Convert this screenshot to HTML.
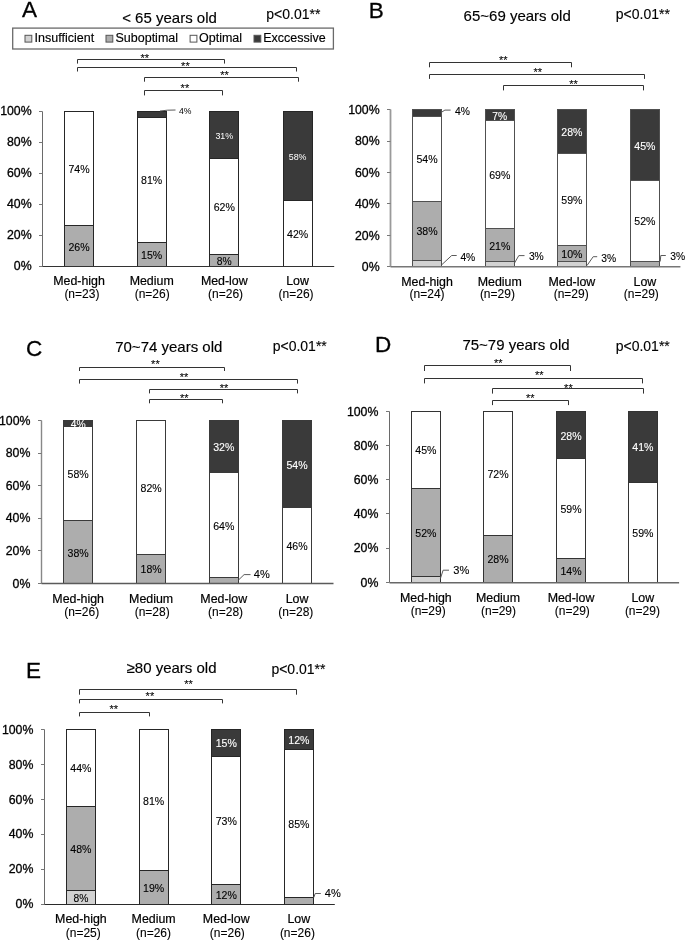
<!DOCTYPE html>
<html><head><meta charset="utf-8"><style>
html,body{margin:0;padding:0;background:#fff;}
svg{display:block;will-change:transform;}
text{font-family:"Liberation Sans", sans-serif;}
</style></head><body>
<svg width="685" height="940" viewBox="0 0 685 940">
<rect x="0" y="0" width="685" height="940" fill="#fff"/>
<text x="22.00" y="16.80" font-size="22.5" text-anchor="start" fill="#000" stroke="#000" stroke-width="0.3" >A</text>
<text x="122.20" y="22.50" font-size="15" text-anchor="start" fill="#000" stroke="#000" stroke-width="0.15" >&lt; 65 years old</text>
<text x="266.30" y="18.90" font-size="14" text-anchor="start" fill="#000" stroke="#000" stroke-width="0.12" >p&lt;0.01**</text>
<line x1="42.50" y1="111.50" x2="42.50" y2="266.50" stroke="#6a6a6a" stroke-width="1.0"/>
<line x1="39.00" y1="266.50" x2="42.50" y2="266.50" stroke="#777777" stroke-width="1"/>
<text x="31.60" y="270.40" font-size="12.3" text-anchor="end" fill="#000" stroke="#000" stroke-width="0.3" >0%</text>
<line x1="39.00" y1="235.50" x2="42.50" y2="235.50" stroke="#777777" stroke-width="1"/>
<text x="31.60" y="239.38" font-size="12.3" text-anchor="end" fill="#000" stroke="#000" stroke-width="0.3" >20%</text>
<line x1="39.00" y1="204.50" x2="42.50" y2="204.50" stroke="#777777" stroke-width="1"/>
<text x="31.60" y="208.36" font-size="12.3" text-anchor="end" fill="#000" stroke="#000" stroke-width="0.3" >40%</text>
<line x1="39.00" y1="173.50" x2="42.50" y2="173.50" stroke="#777777" stroke-width="1"/>
<text x="31.60" y="177.34" font-size="12.3" text-anchor="end" fill="#000" stroke="#000" stroke-width="0.3" >60%</text>
<line x1="39.00" y1="142.50" x2="42.50" y2="142.50" stroke="#777777" stroke-width="1"/>
<text x="31.60" y="146.32" font-size="12.3" text-anchor="end" fill="#000" stroke="#000" stroke-width="0.3" >80%</text>
<line x1="39.00" y1="111.50" x2="42.50" y2="111.50" stroke="#777777" stroke-width="1"/>
<text x="31.60" y="115.30" font-size="12.3" text-anchor="end" fill="#000" stroke="#000" stroke-width="0.3" >100%</text>
<rect x="64.50" y="225.50" width="29.00" height="41.00" fill="#adadad" stroke="#262626" stroke-width="1"/>
<rect x="64.50" y="111.50" width="29.00" height="114.00" fill="#ffffff" stroke="#262626" stroke-width="1"/>
<text x="79.00" y="250.61" font-size="11" text-anchor="middle" fill="#000" stroke="#000" stroke-width="0.12" textLength="21.20" lengthAdjust="spacingAndGlyphs">26%</text>
<text x="79.00" y="173.06" font-size="11" text-anchor="middle" fill="#000" stroke="#000" stroke-width="0.12" textLength="21.20" lengthAdjust="spacingAndGlyphs">74%</text>
<text x="79.00" y="285.30" font-size="12.4" text-anchor="middle" fill="#000" stroke="#000" stroke-width="0.2" >Med-high</text>
<text x="81.90" y="298.10" font-size="12" text-anchor="middle" fill="#000" stroke="#000" stroke-width="0.1" >(n=23)</text>
<rect x="137.50" y="242.50" width="29.00" height="24.00" fill="#adadad" stroke="#262626" stroke-width="1"/>
<rect x="137.50" y="117.50" width="29.00" height="125.00" fill="#ffffff" stroke="#262626" stroke-width="1"/>
<rect x="137.50" y="111.50" width="29.00" height="6.00" fill="#3a3a3a" stroke="#262626" stroke-width="1"/>
<text x="151.70" y="258.91" font-size="11" text-anchor="middle" fill="#000" stroke="#000" stroke-width="0.12" textLength="21.20" lengthAdjust="spacingAndGlyphs">15%</text>
<text x="151.70" y="184.34" font-size="11" text-anchor="middle" fill="#000" stroke="#000" stroke-width="0.12" textLength="21.20" lengthAdjust="spacingAndGlyphs">81%</text>
<text x="151.70" y="285.30" font-size="12.4" text-anchor="middle" fill="#000" stroke="#000" stroke-width="0.2" >Medium</text>
<text x="152.20" y="298.10" font-size="12" text-anchor="middle" fill="#000" stroke="#000" stroke-width="0.1" >(n=26)</text>
<rect x="209.50" y="254.50" width="29.00" height="12.00" fill="#adadad" stroke="#262626" stroke-width="1"/>
<rect x="209.50" y="158.50" width="29.00" height="96.00" fill="#ffffff" stroke="#262626" stroke-width="1"/>
<rect x="209.50" y="111.50" width="29.00" height="47.00" fill="#3a3a3a" stroke="#262626" stroke-width="1"/>
<text x="224.30" y="264.87" font-size="11" text-anchor="middle" fill="#000" stroke="#000" stroke-width="0.12" textLength="14.90" lengthAdjust="spacingAndGlyphs">8%</text>
<text x="224.30" y="211.18" font-size="11" text-anchor="middle" fill="#000" stroke="#000" stroke-width="0.12" textLength="21.20" lengthAdjust="spacingAndGlyphs">62%</text>
<text x="224.30" y="138.88" font-size="9" text-anchor="middle" fill="#fff" stroke="#fff" stroke-width="0" textLength="17.80" lengthAdjust="spacingAndGlyphs">31%</text>
<text x="224.30" y="285.30" font-size="12.4" text-anchor="middle" fill="#000" stroke="#000" stroke-width="0.2" >Med-low</text>
<text x="225.60" y="298.10" font-size="12" text-anchor="middle" fill="#000" stroke="#000" stroke-width="0.1" >(n=26)</text>
<rect x="283.50" y="200.50" width="29.00" height="66.00" fill="#ffffff" stroke="#262626" stroke-width="1"/>
<rect x="283.50" y="111.50" width="29.00" height="89.00" fill="#3a3a3a" stroke="#262626" stroke-width="1"/>
<text x="297.60" y="238.03" font-size="11" text-anchor="middle" fill="#000" stroke="#000" stroke-width="0.12" textLength="21.20" lengthAdjust="spacingAndGlyphs">42%</text>
<text x="297.60" y="159.76" font-size="9" text-anchor="middle" fill="#fff" stroke="#fff" stroke-width="0" textLength="17.80" lengthAdjust="spacingAndGlyphs">58%</text>
<text x="297.60" y="285.30" font-size="12.4" text-anchor="middle" fill="#000" stroke="#000" stroke-width="0.2" >Low</text>
<text x="296.10" y="298.10" font-size="12" text-anchor="middle" fill="#000" stroke="#000" stroke-width="0.1" >(n=26)</text>
<line x1="42.50" y1="266.50" x2="334.20" y2="266.50" stroke="#333333" stroke-width="1.1"/>
<polyline points="160.00,111.00 167.30,110.20 175.50,110.00" fill="none" stroke="#5a5a5a" stroke-width="1"/>
<text x="179.00" y="114.42" font-size="9" text-anchor="start" fill="#000" stroke="#000" stroke-width="0" textLength="12.50" lengthAdjust="spacingAndGlyphs">4%</text>
<polyline points="77.50,63.60 77.50,59.50 224.50,59.50 224.50,63.60" fill="none" stroke="#333" stroke-width="1"/>
<text x="144.70" y="61.70" font-size="11" text-anchor="middle" fill="#000" stroke="#000" stroke-width="0.1" >**</text>
<polyline points="77.50,71.50 77.50,67.50 296.50,67.50 296.50,71.50" fill="none" stroke="#333" stroke-width="1"/>
<text x="185.40" y="69.70" font-size="11" text-anchor="middle" fill="#000" stroke="#000" stroke-width="0.1" >**</text>
<polyline points="144.50,81.70 144.50,77.50 298.50,77.50 298.50,81.70" fill="none" stroke="#333" stroke-width="1"/>
<text x="224.60" y="79.20" font-size="11" text-anchor="middle" fill="#000" stroke="#000" stroke-width="0.1" >**</text>
<polyline points="144.50,95.40 144.50,90.50 222.50,90.50 222.50,95.40" fill="none" stroke="#333" stroke-width="1"/>
<text x="184.90" y="91.70" font-size="11" text-anchor="middle" fill="#000" stroke="#000" stroke-width="0.1" >**</text>
<text x="368.80" y="17.60" font-size="22.5" text-anchor="start" fill="#000" stroke="#000" stroke-width="0.3" >B</text>
<text x="463.60" y="21.20" font-size="15" text-anchor="start" fill="#000" stroke="#000" stroke-width="0.15" >65~69 years old</text>
<text x="615.80" y="19.20" font-size="14" text-anchor="start" fill="#000" stroke="#000" stroke-width="0.12" >p&lt;0.01**</text>
<line x1="390.50" y1="109.50" x2="390.50" y2="266.50" stroke="#9a9a9a" stroke-width="1.8"/>
<line x1="387.00" y1="266.50" x2="390.50" y2="266.50" stroke="#777777" stroke-width="1"/>
<text x="379.60" y="270.90" font-size="12.3" text-anchor="end" fill="#000" stroke="#000" stroke-width="0.3" >0%</text>
<line x1="387.00" y1="235.50" x2="390.50" y2="235.50" stroke="#777777" stroke-width="1"/>
<text x="379.60" y="239.50" font-size="12.3" text-anchor="end" fill="#000" stroke="#000" stroke-width="0.3" >20%</text>
<line x1="387.00" y1="203.50" x2="390.50" y2="203.50" stroke="#777777" stroke-width="1"/>
<text x="379.60" y="208.10" font-size="12.3" text-anchor="end" fill="#000" stroke="#000" stroke-width="0.3" >40%</text>
<line x1="387.00" y1="172.50" x2="390.50" y2="172.50" stroke="#777777" stroke-width="1"/>
<text x="379.60" y="176.70" font-size="12.3" text-anchor="end" fill="#000" stroke="#000" stroke-width="0.3" >60%</text>
<line x1="387.00" y1="141.50" x2="390.50" y2="141.50" stroke="#777777" stroke-width="1"/>
<text x="379.60" y="145.30" font-size="12.3" text-anchor="end" fill="#000" stroke="#000" stroke-width="0.3" >80%</text>
<line x1="387.00" y1="109.50" x2="390.50" y2="109.50" stroke="#777777" stroke-width="1"/>
<text x="379.60" y="113.90" font-size="12.3" text-anchor="end" fill="#000" stroke="#000" stroke-width="0.3" >100%</text>
<rect x="412.50" y="260.50" width="29.00" height="6.00" fill="#d2d2d2" stroke="#505050" stroke-width="1"/>
<rect x="412.50" y="201.50" width="29.00" height="59.00" fill="#adadad" stroke="#505050" stroke-width="1"/>
<rect x="412.50" y="116.50" width="29.00" height="85.00" fill="#ffffff" stroke="#505050" stroke-width="1"/>
<rect x="412.50" y="109.50" width="29.00" height="7.00" fill="#3a3a3a" stroke="#505050" stroke-width="1"/>
<text x="427.00" y="235.36" font-size="11" text-anchor="middle" fill="#000" stroke="#000" stroke-width="0.12" textLength="21.20" lengthAdjust="spacingAndGlyphs">38%</text>
<text x="427.00" y="163.40" font-size="11" text-anchor="middle" fill="#000" stroke="#000" stroke-width="0.12" textLength="21.20" lengthAdjust="spacingAndGlyphs">54%</text>
<text x="427.00" y="285.70" font-size="12.4" text-anchor="middle" fill="#000" stroke="#000" stroke-width="0.2" >Med-high</text>
<text x="427.10" y="297.60" font-size="12" text-anchor="middle" fill="#000" stroke="#000" stroke-width="0.1" >(n=24)</text>
<rect x="485.50" y="261.50" width="29.00" height="5.00" fill="#d2d2d2" stroke="#505050" stroke-width="1"/>
<rect x="485.50" y="228.50" width="29.00" height="33.00" fill="#adadad" stroke="#505050" stroke-width="1"/>
<rect x="485.50" y="120.50" width="29.00" height="108.00" fill="#ffffff" stroke="#505050" stroke-width="1"/>
<rect x="485.50" y="109.50" width="29.00" height="11.00" fill="#3a3a3a" stroke="#505050" stroke-width="1"/>
<text x="499.80" y="249.68" font-size="11" text-anchor="middle" fill="#000" stroke="#000" stroke-width="0.12" textLength="21.20" lengthAdjust="spacingAndGlyphs">21%</text>
<text x="499.80" y="179.30" font-size="11" text-anchor="middle" fill="#000" stroke="#000" stroke-width="0.12" textLength="21.20" lengthAdjust="spacingAndGlyphs">69%</text>
<text x="499.80" y="119.75" font-size="11" text-anchor="middle" fill="#fff" stroke="#fff" stroke-width="0.12" textLength="14.90" lengthAdjust="spacingAndGlyphs">7%</text>
<text x="499.80" y="285.70" font-size="12.4" text-anchor="middle" fill="#000" stroke="#000" stroke-width="0.2" >Medium</text>
<text x="497.40" y="297.60" font-size="12" text-anchor="middle" fill="#000" stroke="#000" stroke-width="0.1" >(n=29)</text>
<rect x="557.50" y="261.50" width="29.00" height="5.00" fill="#d2d2d2" stroke="#505050" stroke-width="1"/>
<rect x="557.50" y="245.50" width="29.00" height="16.00" fill="#adadad" stroke="#505050" stroke-width="1"/>
<rect x="557.50" y="153.50" width="29.00" height="92.00" fill="#ffffff" stroke="#505050" stroke-width="1"/>
<rect x="557.50" y="109.50" width="29.00" height="44.00" fill="#3a3a3a" stroke="#505050" stroke-width="1"/>
<text x="571.90" y="257.80" font-size="11" text-anchor="middle" fill="#000" stroke="#000" stroke-width="0.12" textLength="21.20" lengthAdjust="spacingAndGlyphs">10%</text>
<text x="571.90" y="203.67" font-size="11" text-anchor="middle" fill="#000" stroke="#000" stroke-width="0.12" textLength="21.20" lengthAdjust="spacingAndGlyphs">59%</text>
<text x="571.90" y="135.99" font-size="11" text-anchor="middle" fill="#fff" stroke="#fff" stroke-width="0.12" textLength="21.20" lengthAdjust="spacingAndGlyphs">28%</text>
<text x="571.90" y="285.70" font-size="12.4" text-anchor="middle" fill="#000" stroke="#000" stroke-width="0.2" >Med-low</text>
<text x="571.20" y="297.60" font-size="12" text-anchor="middle" fill="#000" stroke="#000" stroke-width="0.1" >(n=29)</text>
<rect x="630.50" y="261.50" width="29.00" height="5.00" fill="#adadad" stroke="#505050" stroke-width="1"/>
<rect x="630.50" y="180.50" width="29.00" height="81.00" fill="#ffffff" stroke="#505050" stroke-width="1"/>
<rect x="630.50" y="109.50" width="29.00" height="71.00" fill="#3a3a3a" stroke="#505050" stroke-width="1"/>
<text x="644.90" y="225.32" font-size="11" text-anchor="middle" fill="#000" stroke="#000" stroke-width="0.12" textLength="21.20" lengthAdjust="spacingAndGlyphs">52%</text>
<text x="644.90" y="149.53" font-size="11" text-anchor="middle" fill="#fff" stroke="#fff" stroke-width="0.12" textLength="21.20" lengthAdjust="spacingAndGlyphs">45%</text>
<text x="644.90" y="285.70" font-size="12.4" text-anchor="middle" fill="#000" stroke="#000" stroke-width="0.2" >Low</text>
<text x="641.30" y="297.60" font-size="12" text-anchor="middle" fill="#000" stroke="#000" stroke-width="0.1" >(n=29)</text>
<line x1="390.50" y1="266.80" x2="680.40" y2="266.80" stroke="#777777" stroke-width="1.6"/>
<polyline points="441.40,112.30 444.90,110.10 450.60,110.10" fill="none" stroke="#5a5a5a" stroke-width="1"/>
<text x="455.00" y="115.04" font-size="11" text-anchor="start" fill="#000" stroke="#000" stroke-width="0.12" textLength="14.90" lengthAdjust="spacingAndGlyphs">4%</text>
<polyline points="441.80,264.70 451.70,255.50 456.70,255.50" fill="none" stroke="#5a5a5a" stroke-width="1"/>
<text x="460.40" y="261.04" font-size="11" text-anchor="start" fill="#000" stroke="#000" stroke-width="0.12" textLength="14.90" lengthAdjust="spacingAndGlyphs">4%</text>
<polyline points="514.40,263.20 518.80,255.60 524.50,255.60" fill="none" stroke="#5a5a5a" stroke-width="1"/>
<text x="528.90" y="260.44" font-size="11" text-anchor="start" fill="#000" stroke="#000" stroke-width="0.12" textLength="14.90" lengthAdjust="spacingAndGlyphs">3%</text>
<polyline points="587.00,265.50 593.20,256.70 597.20,256.70" fill="none" stroke="#5a5a5a" stroke-width="1"/>
<text x="601.30" y="261.84" font-size="11" text-anchor="start" fill="#000" stroke="#000" stroke-width="0.12" textLength="14.90" lengthAdjust="spacingAndGlyphs">3%</text>
<polyline points="660.20,261.50 660.80,255.50 665.80,255.50" fill="none" stroke="#5a5a5a" stroke-width="1"/>
<text x="670.20" y="260.14" font-size="11" text-anchor="start" fill="#000" stroke="#000" stroke-width="0.12" textLength="14.90" lengthAdjust="spacingAndGlyphs">3%</text>
<polyline points="429.50,67.30 429.50,62.50 571.50,62.50 571.50,67.30" fill="none" stroke="#333" stroke-width="1"/>
<text x="503.20" y="64.20" font-size="11" text-anchor="middle" fill="#000" stroke="#000" stroke-width="0.1" >**</text>
<polyline points="429.50,78.90 429.50,74.50 644.50,74.50 644.50,78.90" fill="none" stroke="#333" stroke-width="1"/>
<text x="537.70" y="76.20" font-size="11" text-anchor="middle" fill="#000" stroke="#000" stroke-width="0.1" >**</text>
<polyline points="503.50,90.40 503.50,85.50 643.50,85.50 643.50,90.40" fill="none" stroke="#333" stroke-width="1"/>
<text x="573.60" y="87.70" font-size="11" text-anchor="middle" fill="#000" stroke="#000" stroke-width="0.1" >**</text>
<text x="26.00" y="355.50" font-size="22.5" text-anchor="start" fill="#000" stroke="#000" stroke-width="0.3" >C</text>
<text x="115.20" y="351.80" font-size="15" text-anchor="start" fill="#000" stroke="#000" stroke-width="0.15" >70~74 years old</text>
<text x="272.70" y="351.00" font-size="14" text-anchor="start" fill="#000" stroke="#000" stroke-width="0.12" >p&lt;0.01**</text>
<line x1="41.50" y1="420.50" x2="41.50" y2="583.50" stroke="#888888" stroke-width="1.4"/>
<line x1="38.00" y1="583.50" x2="41.50" y2="583.50" stroke="#777777" stroke-width="1"/>
<text x="30.40" y="587.50" font-size="12.3" text-anchor="end" fill="#000" stroke="#000" stroke-width="0.3" >0%</text>
<line x1="38.00" y1="550.50" x2="41.50" y2="550.50" stroke="#777777" stroke-width="1"/>
<text x="30.40" y="554.94" font-size="12.3" text-anchor="end" fill="#000" stroke="#000" stroke-width="0.3" >20%</text>
<line x1="38.00" y1="518.50" x2="41.50" y2="518.50" stroke="#777777" stroke-width="1"/>
<text x="30.40" y="522.38" font-size="12.3" text-anchor="end" fill="#000" stroke="#000" stroke-width="0.3" >40%</text>
<line x1="38.00" y1="485.50" x2="41.50" y2="485.50" stroke="#777777" stroke-width="1"/>
<text x="30.40" y="489.82" font-size="12.3" text-anchor="end" fill="#000" stroke="#000" stroke-width="0.3" >60%</text>
<line x1="38.00" y1="453.50" x2="41.50" y2="453.50" stroke="#777777" stroke-width="1"/>
<text x="30.40" y="457.26" font-size="12.3" text-anchor="end" fill="#000" stroke="#000" stroke-width="0.3" >80%</text>
<line x1="38.00" y1="420.50" x2="41.50" y2="420.50" stroke="#777777" stroke-width="1"/>
<text x="30.40" y="424.70" font-size="12.3" text-anchor="end" fill="#000" stroke="#000" stroke-width="0.3" >100%</text>
<rect x="63.50" y="520.50" width="29.00" height="63.00" fill="#adadad" stroke="#3a3a3a" stroke-width="1"/>
<rect x="63.50" y="426.50" width="29.00" height="94.00" fill="#ffffff" stroke="#3a3a3a" stroke-width="1"/>
<rect x="63.50" y="420.50" width="29.00" height="6.00" fill="#3a3a3a" stroke="#3a3a3a" stroke-width="1"/>
<text x="78.15" y="556.63" font-size="11" text-anchor="middle" fill="#000" stroke="#000" stroke-width="0.12" textLength="21.20" lengthAdjust="spacingAndGlyphs">38%</text>
<text x="78.15" y="478.36" font-size="11" text-anchor="middle" fill="#000" stroke="#000" stroke-width="0.12" textLength="21.20" lengthAdjust="spacingAndGlyphs">58%</text>
<text x="78.15" y="428.27" font-size="11" text-anchor="middle" fill="#fff" stroke="#fff" stroke-width="0.12" textLength="14.90" lengthAdjust="spacingAndGlyphs">4%</text>
<text x="78.15" y="602.80" font-size="12.4" text-anchor="middle" fill="#000" stroke="#000" stroke-width="0.2" >Med-high</text>
<text x="81.70" y="615.60" font-size="12" text-anchor="middle" fill="#000" stroke="#000" stroke-width="0.1" >(n=26)</text>
<rect x="136.50" y="554.50" width="29.00" height="29.00" fill="#adadad" stroke="#3a3a3a" stroke-width="1"/>
<rect x="136.50" y="420.50" width="29.00" height="134.00" fill="#ffffff" stroke="#3a3a3a" stroke-width="1"/>
<text x="151.15" y="573.40" font-size="11" text-anchor="middle" fill="#000" stroke="#000" stroke-width="0.12" textLength="21.20" lengthAdjust="spacingAndGlyphs">18%</text>
<text x="151.15" y="492.00" font-size="11" text-anchor="middle" fill="#000" stroke="#000" stroke-width="0.12" textLength="21.20" lengthAdjust="spacingAndGlyphs">82%</text>
<text x="151.15" y="602.80" font-size="12.4" text-anchor="middle" fill="#000" stroke="#000" stroke-width="0.2" >Medium</text>
<text x="152.20" y="615.60" font-size="12" text-anchor="middle" fill="#000" stroke="#000" stroke-width="0.1" >(n=28)</text>
<rect x="209.50" y="577.50" width="29.00" height="6.00" fill="#adadad" stroke="#3a3a3a" stroke-width="1"/>
<rect x="209.50" y="472.50" width="29.00" height="105.00" fill="#ffffff" stroke="#3a3a3a" stroke-width="1"/>
<rect x="209.50" y="420.50" width="29.00" height="52.00" fill="#3a3a3a" stroke="#3a3a3a" stroke-width="1"/>
<text x="223.75" y="529.80" font-size="11" text-anchor="middle" fill="#000" stroke="#000" stroke-width="0.12" textLength="21.20" lengthAdjust="spacingAndGlyphs">64%</text>
<text x="223.75" y="451.30" font-size="11" text-anchor="middle" fill="#fff" stroke="#fff" stroke-width="0.12" textLength="21.20" lengthAdjust="spacingAndGlyphs">32%</text>
<text x="223.75" y="602.80" font-size="12.4" text-anchor="middle" fill="#000" stroke="#000" stroke-width="0.2" >Med-low</text>
<text x="225.60" y="615.60" font-size="12" text-anchor="middle" fill="#000" stroke="#000" stroke-width="0.1" >(n=28)</text>
<rect x="282.50" y="507.50" width="29.00" height="76.00" fill="#ffffff" stroke="#3a3a3a" stroke-width="1"/>
<rect x="282.50" y="420.50" width="29.00" height="87.00" fill="#3a3a3a" stroke="#3a3a3a" stroke-width="1"/>
<text x="297.05" y="550.15" font-size="11" text-anchor="middle" fill="#000" stroke="#000" stroke-width="0.12" textLength="21.20" lengthAdjust="spacingAndGlyphs">46%</text>
<text x="297.05" y="468.75" font-size="11" text-anchor="middle" fill="#fff" stroke="#fff" stroke-width="0.12" textLength="21.20" lengthAdjust="spacingAndGlyphs">54%</text>
<text x="297.05" y="602.80" font-size="12.4" text-anchor="middle" fill="#000" stroke="#000" stroke-width="0.2" >Low</text>
<text x="295.85" y="615.60" font-size="12" text-anchor="middle" fill="#000" stroke="#000" stroke-width="0.1" >(n=28)</text>
<line x1="41.50" y1="583.50" x2="333.50" y2="583.50" stroke="#5a5a5a" stroke-width="1.3"/>
<polyline points="238.50,580.00 244.10,574.60 250.50,574.60" fill="none" stroke="#5a5a5a" stroke-width="1"/>
<text x="253.80" y="578.42" font-size="11.8" text-anchor="start" fill="#000" stroke="#000" stroke-width="0.12" textLength="15.98" lengthAdjust="spacingAndGlyphs">4%</text>
<polyline points="79.50,371.00 79.50,367.50 224.50,367.50 224.50,371.00" fill="none" stroke="#333" stroke-width="1"/>
<text x="155.40" y="367.60" font-size="11" text-anchor="middle" fill="#000" stroke="#000" stroke-width="0.1" >**</text>
<polyline points="79.50,383.60 79.50,379.50 297.50,379.50 297.50,383.60" fill="none" stroke="#333" stroke-width="1"/>
<text x="184.00" y="380.70" font-size="11" text-anchor="middle" fill="#000" stroke="#000" stroke-width="0.1" >**</text>
<polyline points="149.50,393.40 149.50,389.50 297.50,389.50 297.50,393.40" fill="none" stroke="#333" stroke-width="1"/>
<text x="224.00" y="391.60" font-size="11" text-anchor="middle" fill="#000" stroke="#000" stroke-width="0.1" >**</text>
<polyline points="149.50,403.30 149.50,399.50 222.50,399.50 222.50,403.30" fill="none" stroke="#333" stroke-width="1"/>
<text x="184.30" y="401.80" font-size="11" text-anchor="middle" fill="#000" stroke="#000" stroke-width="0.1" >**</text>
<text x="375.00" y="351.60" font-size="22.5" text-anchor="start" fill="#000" stroke="#000" stroke-width="0.3" >D</text>
<text x="462.40" y="349.90" font-size="15" text-anchor="start" fill="#000" stroke="#000" stroke-width="0.15" >75~79 years old</text>
<text x="615.70" y="350.50" font-size="14" text-anchor="start" fill="#000" stroke="#000" stroke-width="0.12" >p&lt;0.01**</text>
<line x1="389.50" y1="411.50" x2="389.50" y2="582.50" stroke="#6a6a6a" stroke-width="1.0"/>
<line x1="386.00" y1="582.50" x2="389.50" y2="582.50" stroke="#777777" stroke-width="1"/>
<text x="378.40" y="586.60" font-size="12.3" text-anchor="end" fill="#000" stroke="#000" stroke-width="0.3" >0%</text>
<line x1="386.00" y1="548.50" x2="389.50" y2="548.50" stroke="#777777" stroke-width="1"/>
<text x="378.40" y="552.38" font-size="12.3" text-anchor="end" fill="#000" stroke="#000" stroke-width="0.3" >20%</text>
<line x1="386.00" y1="513.50" x2="389.50" y2="513.50" stroke="#777777" stroke-width="1"/>
<text x="378.40" y="518.16" font-size="12.3" text-anchor="end" fill="#000" stroke="#000" stroke-width="0.3" >40%</text>
<line x1="386.00" y1="479.50" x2="389.50" y2="479.50" stroke="#777777" stroke-width="1"/>
<text x="378.40" y="483.94" font-size="12.3" text-anchor="end" fill="#000" stroke="#000" stroke-width="0.3" >60%</text>
<line x1="386.00" y1="445.50" x2="389.50" y2="445.50" stroke="#777777" stroke-width="1"/>
<text x="378.40" y="449.72" font-size="12.3" text-anchor="end" fill="#000" stroke="#000" stroke-width="0.3" >80%</text>
<line x1="386.00" y1="411.50" x2="389.50" y2="411.50" stroke="#777777" stroke-width="1"/>
<text x="378.40" y="415.50" font-size="12.3" text-anchor="end" fill="#000" stroke="#000" stroke-width="0.3" >100%</text>
<rect x="411.50" y="576.50" width="29.00" height="6.00" fill="#d2d2d2" stroke="#333333" stroke-width="1"/>
<rect x="411.50" y="488.50" width="29.00" height="88.00" fill="#adadad" stroke="#333333" stroke-width="1"/>
<rect x="411.50" y="411.50" width="29.00" height="77.00" fill="#ffffff" stroke="#333333" stroke-width="1"/>
<text x="425.85" y="536.89" font-size="11" text-anchor="middle" fill="#000" stroke="#000" stroke-width="0.12" textLength="21.20" lengthAdjust="spacingAndGlyphs">52%</text>
<text x="425.85" y="454.29" font-size="11" text-anchor="middle" fill="#000" stroke="#000" stroke-width="0.12" textLength="21.20" lengthAdjust="spacingAndGlyphs">45%</text>
<text x="425.85" y="601.60" font-size="12.4" text-anchor="middle" fill="#000" stroke="#000" stroke-width="0.2" >Med-high</text>
<text x="428.20" y="614.80" font-size="12" text-anchor="middle" fill="#000" stroke="#000" stroke-width="0.1" >(n=29)</text>
<rect x="483.50" y="535.50" width="29.00" height="47.00" fill="#adadad" stroke="#333333" stroke-width="1"/>
<rect x="483.50" y="411.50" width="29.00" height="124.00" fill="#ffffff" stroke="#333333" stroke-width="1"/>
<text x="498.05" y="563.44" font-size="11" text-anchor="middle" fill="#000" stroke="#000" stroke-width="0.12" textLength="21.20" lengthAdjust="spacingAndGlyphs">28%</text>
<text x="498.05" y="477.89" font-size="11" text-anchor="middle" fill="#000" stroke="#000" stroke-width="0.12" textLength="21.20" lengthAdjust="spacingAndGlyphs">72%</text>
<text x="498.05" y="601.60" font-size="12.4" text-anchor="middle" fill="#000" stroke="#000" stroke-width="0.2" >Medium</text>
<text x="498.50" y="614.80" font-size="12" text-anchor="middle" fill="#000" stroke="#000" stroke-width="0.1" >(n=29)</text>
<rect x="556.50" y="558.50" width="29.00" height="24.00" fill="#adadad" stroke="#333333" stroke-width="1"/>
<rect x="556.50" y="458.50" width="29.00" height="100.00" fill="#ffffff" stroke="#333333" stroke-width="1"/>
<rect x="556.50" y="411.50" width="29.00" height="47.00" fill="#3a3a3a" stroke="#333333" stroke-width="1"/>
<text x="571.05" y="575.24" font-size="11" text-anchor="middle" fill="#000" stroke="#000" stroke-width="0.12" textLength="21.20" lengthAdjust="spacingAndGlyphs">14%</text>
<text x="571.05" y="513.29" font-size="11" text-anchor="middle" fill="#000" stroke="#000" stroke-width="0.12" textLength="21.20" lengthAdjust="spacingAndGlyphs">59%</text>
<text x="571.05" y="439.54" font-size="11" text-anchor="middle" fill="#fff" stroke="#fff" stroke-width="0.12" textLength="21.20" lengthAdjust="spacingAndGlyphs">28%</text>
<text x="571.05" y="601.60" font-size="12.4" text-anchor="middle" fill="#000" stroke="#000" stroke-width="0.2" >Med-low</text>
<text x="572.35" y="614.80" font-size="12" text-anchor="middle" fill="#000" stroke="#000" stroke-width="0.1" >(n=29)</text>
<rect x="628.50" y="482.50" width="29.00" height="100.00" fill="#ffffff" stroke="#333333" stroke-width="1"/>
<rect x="628.50" y="411.50" width="29.00" height="71.00" fill="#3a3a3a" stroke="#333333" stroke-width="1"/>
<text x="642.85" y="536.89" font-size="11" text-anchor="middle" fill="#000" stroke="#000" stroke-width="0.12" textLength="21.20" lengthAdjust="spacingAndGlyphs">59%</text>
<text x="642.85" y="451.34" font-size="11" text-anchor="middle" fill="#fff" stroke="#fff" stroke-width="0.12" textLength="21.20" lengthAdjust="spacingAndGlyphs">41%</text>
<text x="642.85" y="601.60" font-size="12.4" text-anchor="middle" fill="#000" stroke="#000" stroke-width="0.2" >Low</text>
<text x="642.40" y="614.80" font-size="12" text-anchor="middle" fill="#000" stroke="#000" stroke-width="0.1" >(n=29)</text>
<line x1="389.50" y1="582.80" x2="679.10" y2="582.80" stroke="#686868" stroke-width="1.5"/>
<polyline points="440.40,578.50 443.10,570.20 449.00,570.20" fill="none" stroke="#5a5a5a" stroke-width="1"/>
<text x="453.30" y="574.12" font-size="11.8" text-anchor="start" fill="#000" stroke="#000" stroke-width="0.12" textLength="15.98" lengthAdjust="spacingAndGlyphs">3%</text>
<polyline points="424.50,371.00 424.50,365.50 570.50,365.50 570.50,371.00" fill="none" stroke="#333" stroke-width="1"/>
<text x="498.20" y="367.00" font-size="11" text-anchor="middle" fill="#000" stroke="#000" stroke-width="0.1" >**</text>
<polyline points="424.50,383.40 424.50,378.50 642.50,378.50 642.50,383.40" fill="none" stroke="#333" stroke-width="1"/>
<text x="539.30" y="379.00" font-size="11" text-anchor="middle" fill="#000" stroke="#000" stroke-width="0.1" >**</text>
<polyline points="492.50,393.60 492.50,388.50 643.50,388.50 643.50,393.60" fill="none" stroke="#333" stroke-width="1"/>
<text x="568.40" y="391.50" font-size="11" text-anchor="middle" fill="#000" stroke="#000" stroke-width="0.1" >**</text>
<polyline points="492.50,405.10 492.50,400.50 568.50,400.50 568.50,405.10" fill="none" stroke="#333" stroke-width="1"/>
<text x="530.30" y="402.00" font-size="11" text-anchor="middle" fill="#000" stroke="#000" stroke-width="0.1" >**</text>
<text x="26.00" y="677.60" font-size="22.5" text-anchor="start" fill="#000" stroke="#000" stroke-width="0.3" >E</text>
<text x="126.60" y="673.40" font-size="15" text-anchor="start" fill="#000" stroke="#000" stroke-width="0.15" >≥80 years old</text>
<text x="271.40" y="674.00" font-size="14" text-anchor="start" fill="#000" stroke="#000" stroke-width="0.12" >p&lt;0.01**</text>
<line x1="44.50" y1="729.50" x2="44.50" y2="904.50" stroke="#6a6a6a" stroke-width="1.0"/>
<line x1="41.00" y1="904.50" x2="44.50" y2="904.50" stroke="#777777" stroke-width="1"/>
<text x="33.40" y="908.40" font-size="12.3" text-anchor="end" fill="#000" stroke="#000" stroke-width="0.3" >0%</text>
<line x1="41.00" y1="869.50" x2="44.50" y2="869.50" stroke="#777777" stroke-width="1"/>
<text x="33.40" y="873.44" font-size="12.3" text-anchor="end" fill="#000" stroke="#000" stroke-width="0.3" >20%</text>
<line x1="41.00" y1="834.50" x2="44.50" y2="834.50" stroke="#777777" stroke-width="1"/>
<text x="33.40" y="838.48" font-size="12.3" text-anchor="end" fill="#000" stroke="#000" stroke-width="0.3" >40%</text>
<line x1="41.00" y1="799.50" x2="44.50" y2="799.50" stroke="#777777" stroke-width="1"/>
<text x="33.40" y="803.52" font-size="12.3" text-anchor="end" fill="#000" stroke="#000" stroke-width="0.3" >60%</text>
<line x1="41.00" y1="764.50" x2="44.50" y2="764.50" stroke="#777777" stroke-width="1"/>
<text x="33.40" y="768.56" font-size="12.3" text-anchor="end" fill="#000" stroke="#000" stroke-width="0.3" >80%</text>
<line x1="41.00" y1="729.50" x2="44.50" y2="729.50" stroke="#777777" stroke-width="1"/>
<text x="33.40" y="733.60" font-size="12.3" text-anchor="end" fill="#000" stroke="#000" stroke-width="0.3" >100%</text>
<rect x="66.50" y="890.50" width="29.00" height="14.00" fill="#d2d2d2" stroke="#262626" stroke-width="1"/>
<rect x="66.50" y="806.50" width="29.00" height="84.00" fill="#adadad" stroke="#262626" stroke-width="1"/>
<rect x="66.50" y="729.50" width="29.00" height="77.00" fill="#ffffff" stroke="#262626" stroke-width="1"/>
<text x="80.95" y="901.85" font-size="11" text-anchor="middle" fill="#000" stroke="#000" stroke-width="0.12" textLength="14.90" lengthAdjust="spacingAndGlyphs">8%</text>
<text x="80.95" y="852.90" font-size="11" text-anchor="middle" fill="#000" stroke="#000" stroke-width="0.12" textLength="21.20" lengthAdjust="spacingAndGlyphs">48%</text>
<text x="80.95" y="772.49" font-size="11" text-anchor="middle" fill="#000" stroke="#000" stroke-width="0.12" textLength="21.20" lengthAdjust="spacingAndGlyphs">44%</text>
<text x="80.95" y="923.40" font-size="12.4" text-anchor="middle" fill="#000" stroke="#000" stroke-width="0.2" >Med-high</text>
<text x="83.25" y="936.90" font-size="12" text-anchor="middle" fill="#000" stroke="#000" stroke-width="0.1" >(n=25)</text>
<rect x="139.50" y="870.50" width="29.00" height="34.00" fill="#adadad" stroke="#262626" stroke-width="1"/>
<rect x="139.50" y="729.50" width="29.00" height="141.00" fill="#ffffff" stroke="#262626" stroke-width="1"/>
<text x="153.65" y="892.03" font-size="11" text-anchor="middle" fill="#000" stroke="#000" stroke-width="0.12" textLength="21.20" lengthAdjust="spacingAndGlyphs">19%</text>
<text x="153.65" y="804.63" font-size="11" text-anchor="middle" fill="#000" stroke="#000" stroke-width="0.12" textLength="21.20" lengthAdjust="spacingAndGlyphs">81%</text>
<text x="153.65" y="923.40" font-size="12.4" text-anchor="middle" fill="#000" stroke="#000" stroke-width="0.2" >Medium</text>
<text x="153.50" y="936.90" font-size="12" text-anchor="middle" fill="#000" stroke="#000" stroke-width="0.1" >(n=26)</text>
<rect x="211.50" y="884.50" width="29.00" height="20.00" fill="#adadad" stroke="#262626" stroke-width="1"/>
<rect x="211.50" y="756.50" width="29.00" height="128.00" fill="#ffffff" stroke="#262626" stroke-width="1"/>
<rect x="211.50" y="729.50" width="29.00" height="27.00" fill="#3a3a3a" stroke="#262626" stroke-width="1"/>
<text x="226.25" y="898.75" font-size="11" text-anchor="middle" fill="#000" stroke="#000" stroke-width="0.12" textLength="21.20" lengthAdjust="spacingAndGlyphs">12%</text>
<text x="226.25" y="824.80" font-size="11" text-anchor="middle" fill="#000" stroke="#000" stroke-width="0.12" textLength="21.20" lengthAdjust="spacingAndGlyphs">73%</text>
<text x="226.25" y="747.48" font-size="11" text-anchor="middle" fill="#fff" stroke="#fff" stroke-width="0.12" textLength="21.20" lengthAdjust="spacingAndGlyphs">15%</text>
<text x="226.25" y="923.40" font-size="12.4" text-anchor="middle" fill="#000" stroke="#000" stroke-width="0.2" >Med-low</text>
<text x="227.35" y="936.90" font-size="12" text-anchor="middle" fill="#000" stroke="#000" stroke-width="0.1" >(n=26)</text>
<rect x="284.50" y="897.50" width="29.00" height="7.00" fill="#adadad" stroke="#262626" stroke-width="1"/>
<rect x="284.50" y="749.50" width="29.00" height="148.00" fill="#ffffff" stroke="#262626" stroke-width="1"/>
<rect x="284.50" y="729.50" width="29.00" height="20.00" fill="#3a3a3a" stroke="#262626" stroke-width="1"/>
<text x="298.85" y="828.16" font-size="11" text-anchor="middle" fill="#000" stroke="#000" stroke-width="0.12" textLength="21.20" lengthAdjust="spacingAndGlyphs">85%</text>
<text x="298.85" y="744.12" font-size="11" text-anchor="middle" fill="#fff" stroke="#fff" stroke-width="0.12" textLength="21.20" lengthAdjust="spacingAndGlyphs">12%</text>
<text x="298.85" y="923.40" font-size="12.4" text-anchor="middle" fill="#000" stroke="#000" stroke-width="0.2" >Low</text>
<text x="297.40" y="936.90" font-size="12" text-anchor="middle" fill="#000" stroke="#000" stroke-width="0.1" >(n=26)</text>
<line x1="44.50" y1="904.50" x2="334.80" y2="904.50" stroke="#2a2a2a" stroke-width="1.1"/>
<polyline points="313.80,897.50 315.20,893.50 320.80,893.50" fill="none" stroke="#5a5a5a" stroke-width="1"/>
<text x="324.80" y="897.42" font-size="11.8" text-anchor="start" fill="#000" stroke="#000" stroke-width="0.12" textLength="15.98" lengthAdjust="spacingAndGlyphs">4%</text>
<polyline points="79.50,694.70 79.50,689.50 296.50,689.50 296.50,694.70" fill="none" stroke="#333" stroke-width="1"/>
<text x="188.50" y="688.20" font-size="11" text-anchor="middle" fill="#000" stroke="#000" stroke-width="0.1" >**</text>
<polyline points="79.50,703.40 79.50,699.50 222.50,699.50 222.50,703.40" fill="none" stroke="#333" stroke-width="1"/>
<text x="149.90" y="700.00" font-size="11" text-anchor="middle" fill="#000" stroke="#000" stroke-width="0.1" >**</text>
<polyline points="79.50,716.40 79.50,712.50 149.50,712.50 149.50,716.40" fill="none" stroke="#333" stroke-width="1"/>
<text x="113.80" y="713.20" font-size="11" text-anchor="middle" fill="#000" stroke="#000" stroke-width="0.1" >**</text>
<rect x="12.7" y="28.1" width="320.7" height="20.9" fill="#fff" stroke="#6a6a6a" stroke-width="1.3"/>
<rect x="25.00" y="35.3" width="6.8" height="6.8" fill="#d2d2d2" stroke="#555" stroke-width="1"/>
<text x="34.60" y="42.40" font-size="12.5" text-anchor="start" fill="#000" stroke="#000" stroke-width="0.15" >Insufficient</text>
<rect x="106.00" y="35.3" width="6.8" height="6.8" fill="#adadad" stroke="#555" stroke-width="1"/>
<text x="115.50" y="42.40" font-size="12.5" text-anchor="start" fill="#000" stroke="#000" stroke-width="0.15" >Suboptimal</text>
<rect x="190.10" y="35.3" width="6.8" height="6.8" fill="#ffffff" stroke="#555" stroke-width="1"/>
<text x="199.00" y="42.40" font-size="12.5" text-anchor="start" fill="#000" stroke="#000" stroke-width="0.15" >Optimal</text>
<rect x="254.00" y="35.3" width="6.8" height="6.8" fill="#3a3a3a" stroke="#555" stroke-width="1"/>
<text x="263.20" y="42.40" font-size="12.5" text-anchor="start" fill="#000" stroke="#000" stroke-width="0.15" >Exccessive</text>
</svg>
</body></html>
